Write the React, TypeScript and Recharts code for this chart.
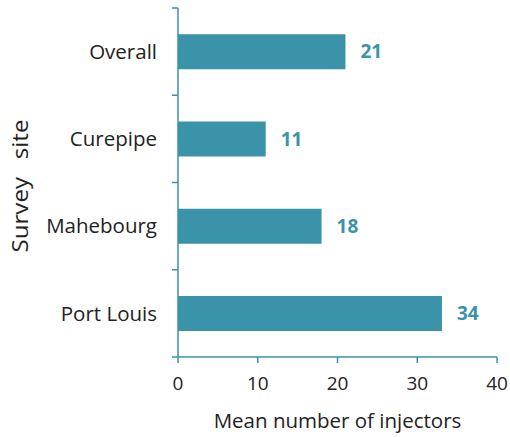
import { BarChart, Bar, XAxis, YAxis, LabelList } from 'recharts';

const sites = ['Overall', 'Curepipe', 'Mahebourg', 'Port Louis'];
// bar lengths as drawn, and the printed labels (Port Louis bar is drawn a bit short of its label)
const meanInjectors = [21, 11, 18, 33.1];
const valueLabels = ['21', '11', '18', '34'];
const xTicks = [0, 10, 20, 30, 40];

const data = sites.map((site, i) => ({ site, value: meanInjectors[i], label: valueLabels[i] }));

const TEAL = '#3a93a8';
const FONT = '"Open Sans", sans-serif';

// category label plus tick marks on the band edges (not the centres)
function SiteTick(props: any) {
    const { x, y, payload, index, visibleTicksCount } = props;
    const half = payload.offset || 0;
    const axisX = x + 15 + 6;
    return (
        <g>
            <line x1={axisX - 6} x2={axisX} y1={y - half} y2={y - half} stroke={TEAL} strokeWidth={1.5} />
            {index === visibleTicksCount - 1 && (
                <line x1={axisX - 6} x2={axisX} y1={y + half} y2={y + half} stroke={TEAL} strokeWidth={1.5} />
            )}
            <text x={x} y={y} dy="0.35em" textAnchor="end" fill="#222" fontSize={20.5} fontFamily={FONT}>
                {payload.value}
            </text>
        </g>
    );
}

function SiteLabel() {
    const cx = 20;
    const cy = 186;
    return (
        <text
            x={cx}
            y={cy}
            transform={`rotate(-90, ${cx}, ${cy})`}
            textAnchor="middle"
            dominantBaseline="central"
            fill="#222"
            fontSize={21}
            fontFamily={FONT}
            wordSpacing={10}
            textLength={133}
            lengthAdjust="spacingAndGlyphs"
        >
            Survey site
        </text>
    );
}

export default function App() {
    return (
        <div style={{ position: 'absolute', left: 0, top: 0, width: 510, height: 437, fontFamily: FONT }}>
            <BarChart
                width={510}
                height={437}
                data={data}
                layout="vertical"
                margin={{ top: 8, right: 13, bottom: 8, left: 58 }}
                barCategoryGap="30%"
            >
                <XAxis
                    type="number"
                    domain={[0, 40]}
                    ticks={xTicks}
                    height={72}
                    stroke={TEAL}
                    strokeWidth={1.5}
                    tickSize={6}
                    tickMargin={14}
                    tick={{ fill: '#222', fontSize: 19, fontFamily: FONT }}
                    label={{
                        value: 'Mean number of injectors',
                        position: 'insideBottom',
                        offset: 1,
                        fill: '#222',
                        fontSize: 20.5,
                        fontFamily: FONT,
                    }}
                />
                <YAxis
                    type="category"
                    dataKey="site"
                    width={120}
                    stroke={TEAL}
                    strokeWidth={1.5}
                    tickLine={false}
                    tickSize={6}
                    tickMargin={15}
                    tick={<SiteTick />}
                />
                <Bar dataKey="value" fill={TEAL} isAnimationActive={false}>
                    <LabelList
                        dataKey="label"
                        position="right"
                        offset={15}
                        fill={TEAL}
                        fontSize={19}
                        fontWeight="bold"
                        fontFamily={FONT}
                    />
                </Bar>
            </BarChart>
            <svg width={60} height={437} style={{ position: 'absolute', left: 0, top: 0 }}>
                <SiteLabel />
            </svg>
        </div>
    );
}
